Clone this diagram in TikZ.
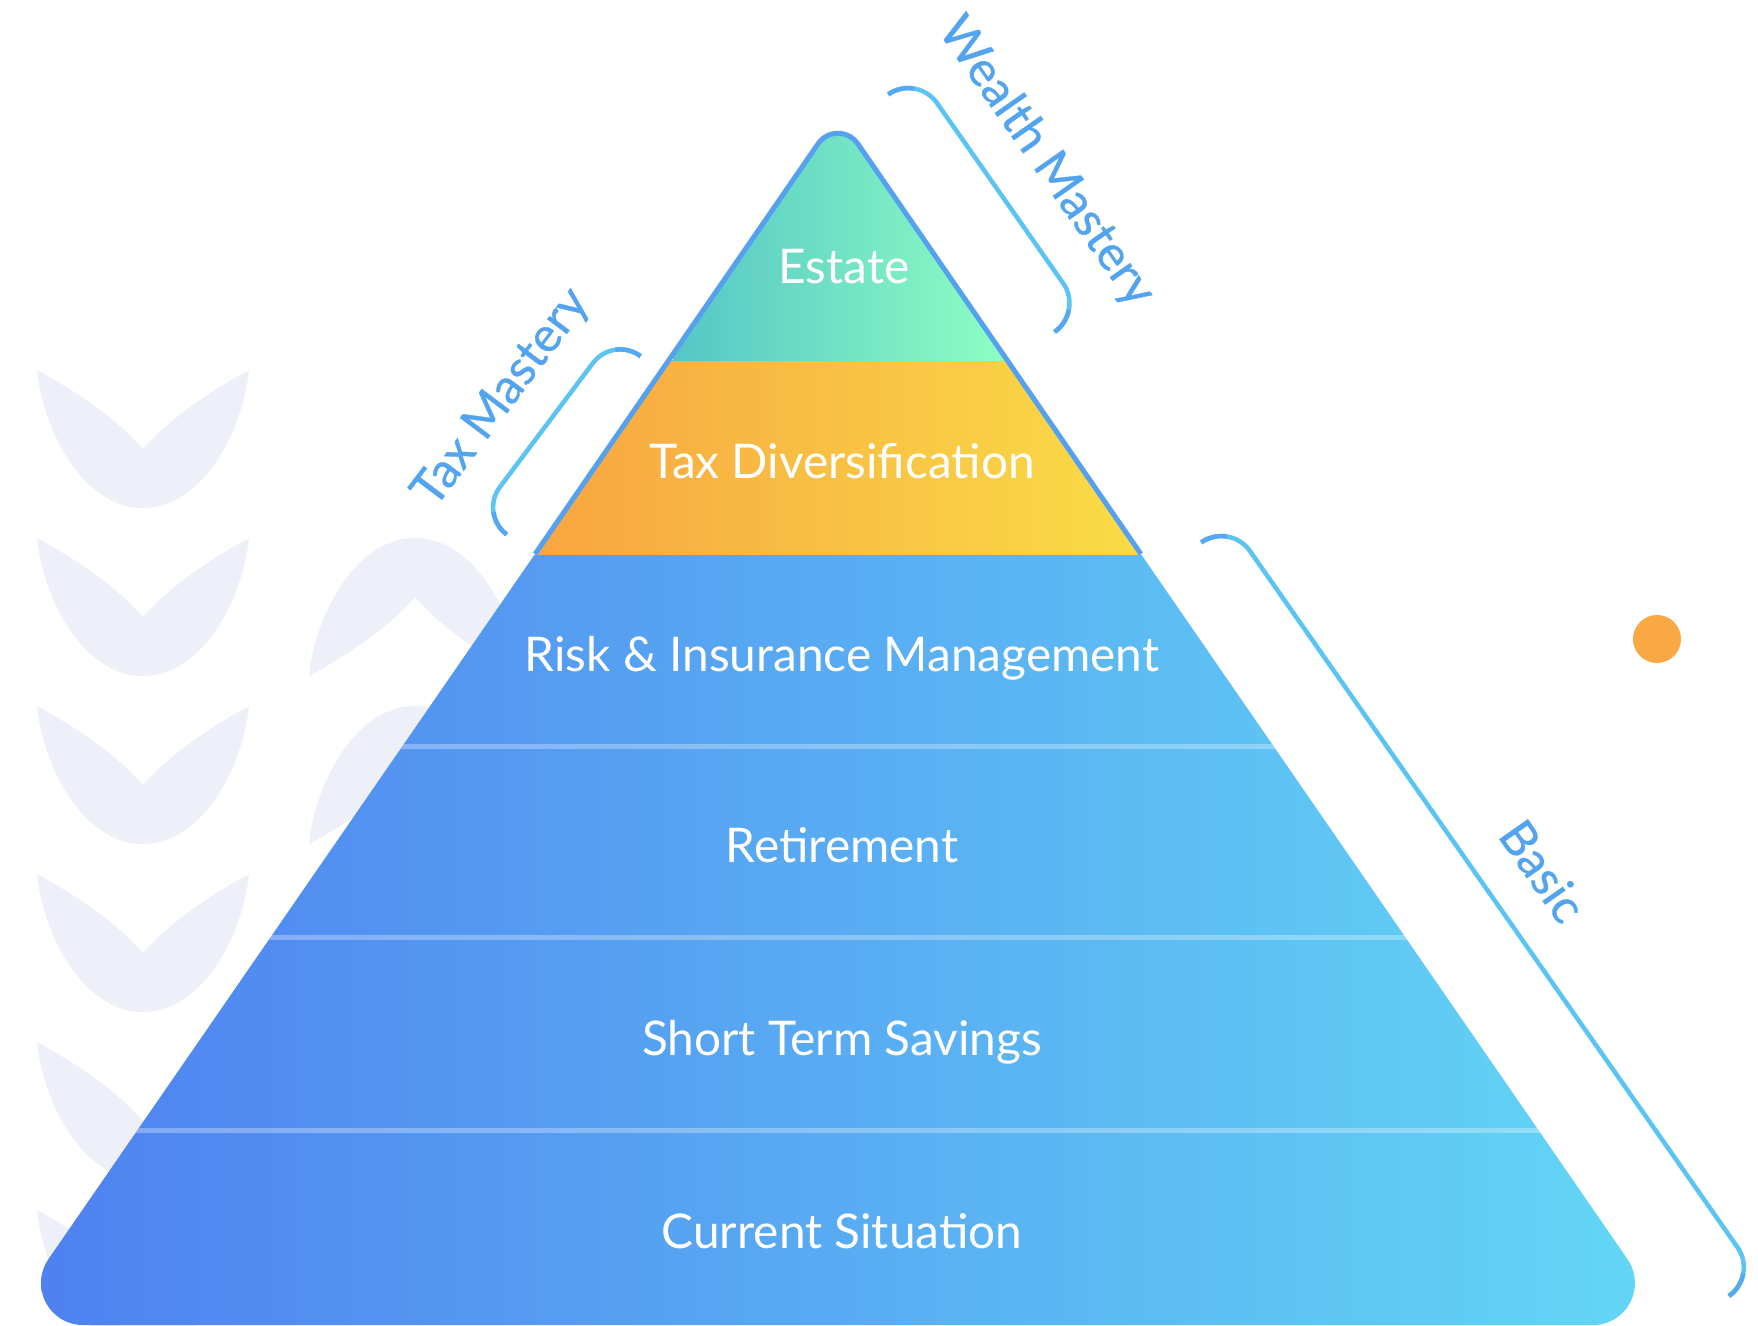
\documentclass[tikz,border=0pt]{standalone}
\usepackage{fontspec}
\setmainfont{Lato}
\newfontfamily\sidefont{Lato}[FakeBold=0.7]
\usepackage{tikz}

% 颜色
\definecolor{pyrblueL}{HTML}{4E7FF0}
\definecolor{pyrblueR}{HTML}{63D8F5}
\definecolor{taxL}{HTML}{F8A541}
\definecolor{taxR}{HTML}{F9DC46}
\definecolor{estL}{HTML}{55C6C5}
\definecolor{estR}{HTML}{8DFEC3}
\definecolor{edgeblue}{HTML}{55A0EF}
\definecolor{bracecyan}{HTML}{5BC4F2}
\definecolor{bracetip}{HTML}{55A9F0}
\definecolor{labelblue}{HTML}{53A4EF}
\definecolor{chevgray}{HTML}{EDF0F8}
\definecolor{dotorange}{HTML}{F9A843}

\tikzset{
  tier label/.style={
    text=white,
    anchor=base,
    font=\fontsize{13.6}{16}\selectfont
  },
  side label/.style={
    text=labelblue,
    font=\sidefont\fontsize{13.8}{16}\selectfont
  },
  brace line/.style={
    draw=bracecyan,
    line width=0.45mm
  },
  brace tip/.style={
    draw=bracetip,
    line width=0.45mm
  },
  sep line/.style={
    draw=white,
    draw opacity=0.3,
    line width=0.5mm
  },
  top outline/.style={
    draw=edgeblue,
    line width=0.5mm,
    line join=round
  },
  chevron/.style={
    fill=chevgray
  }
}

\begin{document}
\begin{tikzpicture}[x=0.1mm, y=-0.1mm]

  % 画布 (像素坐标, y 向下)
  \useasboundingbox (0,0) rectangle (1758,1326);
  \fill[white] (0,0) rectangle (1758,1326);

  % ======================= 背景折线图案 =======================
  \foreach \k in {0,...,5} {
    \begin{scope}[shift={(143,370+168*\k)}]
      \fill[chevron] (-106,0) .. controls (-100,60) and (-60,138) .. (0,138)
        .. controls (60,138) and (100,60) .. (106,0)
        .. controls (70,20) and (30,45) .. (0,79)
        .. controls (-30,45) and (-70,20) .. (-106,0) -- cycle;
    \end{scope}
  }
  % 第二列 (倒置)
  \foreach \k in {0,1} {
    \begin{scope}[shift={(415,676+168*\k)}, yscale=-1]
      \fill[chevron] (-106,0) .. controls (-100,60) and (-60,138) .. (0,138)
        .. controls (60,138) and (100,60) .. (106,0)
        .. controls (70,20) and (30,45) .. (0,79)
        .. controls (-30,45) and (-70,20) .. (-106,0) -- cycle;
    \end{scope}
  }

  % ======================= 金字塔 =======================
  \begin{scope}
    % 外轮廓 (圆角)
    \clip (818.2,143.6) arc[start angle=214.6, end angle=325.4, radius=24]
      -- (1627.5,1259.2) arc[start angle=-34.6, end angle=90, radius=42]
      -- (83,1325) arc[start angle=90, end angle=214.6, radius=42] -- cycle;

    % 各层渐变
    \shade[left color=pyrblueL, right color=pyrblueR] (0,554) rectangle (1680,1330);
    \shade[left color=taxL, right color=taxR] (535,360) rectangle (1141,554);
    \shade[left color=estL, right color=estR] (673,100) rectangle (1003,360);

    % 分隔线
    \foreach \yy in {746,937,1130}
      \draw[sep line] (0,\yy) -- (1680,\yy);
  \end{scope}

  % 顶部三角描边
  \draw[top outline] (535.1,554) -- (818.2,143.6)
    arc[start angle=214.6, end angle=325.4, radius=24] -- (1140.9,554);

  % 层标签
  \node[tier label] (estate)  at (844,283)  {Estate};
  \node[tier label] (taxdiv)  at (842,478)  {Tax Diversification};
  \node[tier label] (risk)    at (842,671)  {Risk \& Insurance Management};
  \node[tier label] (retire)  at (842,862)  {Retirement};
  \node[tier label] (savings) at (842,1055) {Short Term Savings};
  \node[tier label] (current) at (842,1248) {Current Situation};

  % ======================= 侧边括号 =======================
  % Wealth Mastery
  \draw[brace line] (888.2,94.4) coordinate (wm1)
    arc[start angle=235, end angle=325, radius=35]
    -- ++(55:220)
    arc[start angle=-35, end angle=55, radius=35] coordinate (wm2);
  \draw[brace tip] (wm1) arc[start angle=235, end angle=280, radius=35];
  \draw[brace tip] (wm2) arc[start angle=55, end angle=10, radius=35];
  \node[side label, rotate=-55] (wealthlab) at (1046,162) {Wealth Mastery};

  % Tax Mastery
  \draw[brace line] (640.6,356.2) coordinate (tm1)
    arc[start angle=306.9, end angle=216.9, radius=34]
    -- ++(126.9:155)
    arc[start angle=216.9, end angle=126.9, radius=34] coordinate (tm2);
  \draw[brace tip] (tm1) arc[start angle=306.9, end angle=261.9, radius=34];
  \draw[brace tip] (tm2) arc[start angle=126.9, end angle=171.9, radius=34];
  \node[side label, rotate=53] (taxlab) at (502,398) {Tax Mastery};

  % Basic
  \draw[brace line] (1201.2,542.4) coordinate (bs1)
    arc[start angle=235, end angle=325, radius=35]
    -- ++(55:850)
    arc[start angle=-35, end angle=55, radius=35] coordinate (bs2);
  \draw[brace tip] (bs1) arc[start angle=235, end angle=280, radius=35];
  \draw[brace tip] (bs2) arc[start angle=55, end angle=10, radius=35];
  \node[side label, rotate=-55] (basiclab) at (1543,871) {Basic};

  % 橙色圆点
  \fill[dotorange] (1657,639) circle[radius=24];

\end{tikzpicture}
\end{document}
